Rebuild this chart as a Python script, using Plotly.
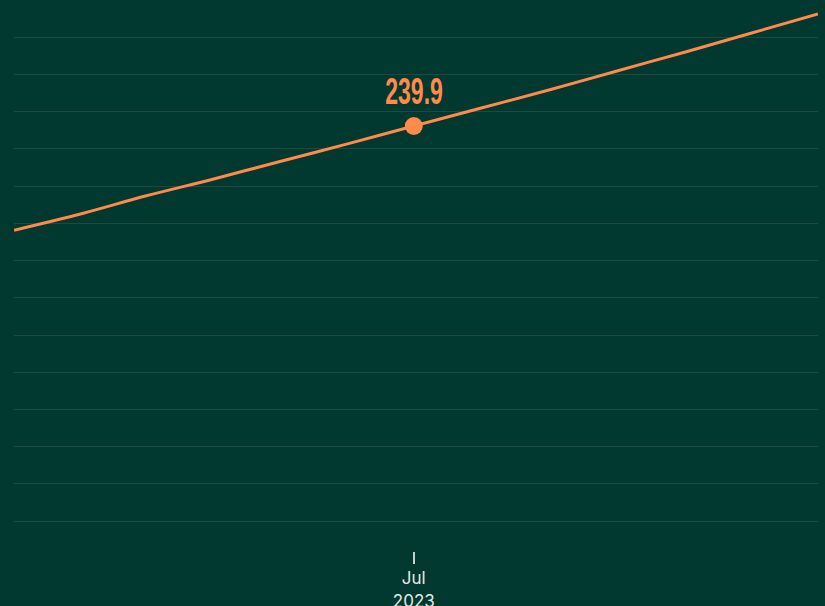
"""Single-series line chart with a highlighted July point, dark green theme."""

import plotly.graph_objects as go

# Data (monthly points, last one at year end)
months = [
    "2023-01-01", "2023-02-01", "2023-03-01", "2023-04-01", "2023-05-01",
    "2023-06-01", "2023-07-01", "2023-08-01", "2023-09-01", "2023-10-01",
    "2023-11-01", "2023-12-01", "2023-12-31",
]
values = [
    237.10, 237.55, 238.01, 238.47, 238.94, 239.42, 239.90,
    240.39, 240.88, 241.38, 241.89, 242.40, 242.91,
]
highlight_month = "2023-07-01"
highlight_value = 239.9
highlight_label = "239.9"
tick_months = ["2023-07-01"]
tick_labels = ["Jul<br>2023"]

BG = "#01382f"
ORANGE = "#ff8a4b"
GRID = "#1c4a40"
TEXT = "#e3e8e6"

fig = go.Figure()
fig.add_trace(
    go.Scatter(
        x=months,
        y=values,
        mode="lines",
        line=dict(color=ORANGE, width=3, shape="spline"),
        hoverinfo="skip",
    )
)
fig.add_trace(
    go.Scatter(
        x=[highlight_month],
        y=[highlight_value],
        mode="markers",
        marker=dict(color=ORANGE, size=18),
        hoverinfo="skip",
    )
)
fig.add_annotation(
    x=highlight_month,
    y=highlight_value,
    text=highlight_label,
    showarrow=False,
    yshift=35,
    font=dict(family="Liberation Sans, Arial, sans-serif", size=36,
              color=ORANGE, weight="bold"),
)

fig.update_layout(
    width=825,
    height=606,
    template="none",
    paper_bgcolor=BG,
    plot_bgcolor=BG,
    margin=dict(l=14, r=7, t=0, b=55),
    showlegend=False,
    font=dict(family="Inter", color=TEXT, size=17),
)
fig.update_xaxes(
    range=[months[0], months[-1]],
    tickvals=tick_months,
    ticktext=tick_labels,
    ticks="outside",
    ticklen=12,
    tickwidth=2,
    tickcolor="#c8d0cd",
    showgrid=False,
    showline=False,
    zeroline=False,
    automargin=False,
    tickfont=dict(family="Inter", size=17, color=TEXT),
)
fig.update_yaxes(
    range=[228.476, 243.287],
    tick0=239.282,
    dtick=1,
    showticklabels=False,
    gridcolor=GRID,
    gridwidth=1,
    zeroline=False,
    showline=False,
    ticks="",
    automargin=False,
)

# Page fills the window; the value label is drawn narrow like a condensed display face.
page_css = """
var s = document.createElement('style');
s.textContent = 'body{margin:0;background:%s;overflow:hidden}'
  + '.annotation-text{transform-box:fill-box;transform-origin:center;transform:scaleX(0.64)}';
document.head.appendChild(s);
""" % BG

fig.write_html("out.html", post_script=page_css, config={"displayModeBar": False})
